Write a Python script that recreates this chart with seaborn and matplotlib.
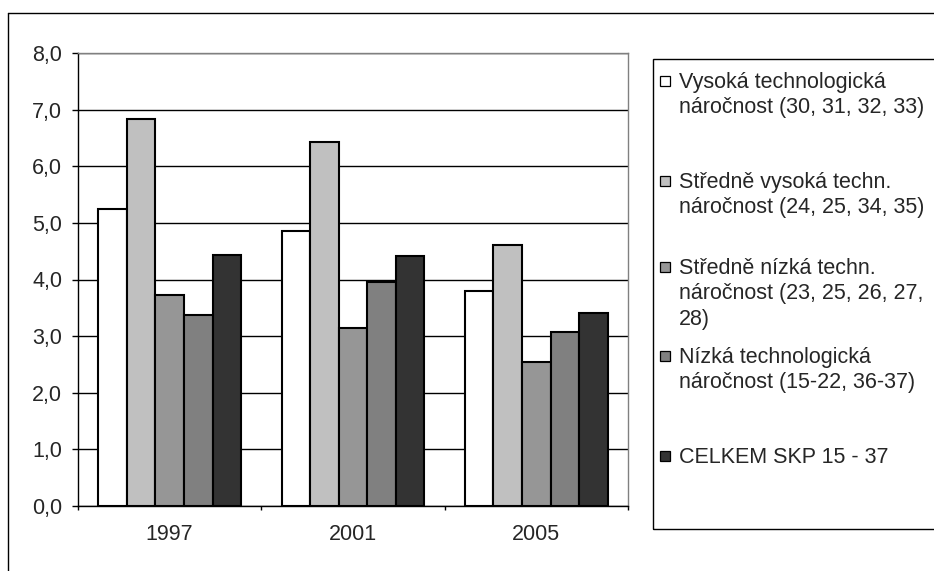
import matplotlib
matplotlib.use("Agg")
import matplotlib.pyplot as plt
from matplotlib.patches import Rectangle
from matplotlib.lines import Line2D
import seaborn as sns
import pandas as pd
import numpy as np

# data
years = ["1997", "2001", "2005"]
series = [
    "Vysoká technologická\nnáročnost (30, 31, 32, 33)",
    "Středně vysoká techn.\nnáročnost (24, 25, 34, 35)",
    "Středně nízká techn.\nnáročnost (23, 25, 26, 27,\n28)",
    "Nízká technologická\nnáročnost (15-22, 36-37)",
    "CELKEM SKP 15 - 37",
]
vysoka = [5.25, 4.85, 3.79]
stredne_vysoka = [6.84, 6.42, 4.61]
stredne_nizka = [3.72, 3.15, 2.55]
nizka = [3.37, 3.96, 3.08]
celkem = [4.44, 4.41, 3.40]
yticks = [0, 1, 2, 3, 4, 5, 6, 7, 8]

colors = ["#FFFFFF", "#C0C0C0", "#969696", "#808080", "#333333"]
# legend entry positions (px from top of the figure, centre of first line)
legend_y = [81, 181, 267, 356, 456]

values = [vysoka, stredne_vysoka, stredne_nizka, nizka, celkem]
df = pd.DataFrame({
    "rok": years * len(series),
    "skupina": [s for s in series for _ in years],
    "hodnota": [v for vals in values for v in vals],
})

sns.set_style("white")
plt.rcParams['font.family'] = ['Liberation Sans', 'DejaVu Sans']
plt.rcParams['font.size'] = 15

W, H = 934, 571
fig = plt.figure(figsize=(W / 100, H / 100), dpi=100)
ax = fig.add_axes([78 / W, (H - 506) / H, 550 / W, 453 / H])

sns.barplot(data=df, x="rok", y="hodnota", hue="skupina", palette=colors,
            saturation=1, edgecolor="black", linewidth=1.5, width=0.78,
            gap=0, legend=False, ax=ax)

ax.set_xlim(-0.5, 2.5)
ax.set_ylim(0, 8)
ax.set_yticks(yticks)
ax.set_yticklabels([f"{v:.1f}".replace(".", ",") for v in yticks])
ax.yaxis.grid(True, color="black", linewidth=1)
ax.set_axisbelow(True)
ax.set_xlabel("")
ax.set_ylabel("")
ax.set_xticks([-0.5, 0.5, 1.5, 2.5], minor=True)
ax.tick_params(axis="y", direction="out", length=4.5, width=1, color="black", pad=7, left=True, labelsize=15.5)
ax.tick_params(axis="x", which="major", length=0, pad=13, labelsize=15.5)
ax.tick_params(axis="x", which="minor", direction="out", length=3, width=1, color="black", bottom=True)

for side in ["top", "right"]:
    ax.spines[side].set_color("#808080")
for side in ["left", "bottom"]:
    ax.spines[side].set_color("black")
for sp in ax.spines.values():
    sp.set_linewidth(1)
    sp.set_visible(True)

# outer chart-area frame
fig.add_artist(Line2D([8 / W, 1], [1 - 13 / H, 1 - 13 / H], transform=fig.transFigure, color="black", lw=1))
fig.add_artist(Line2D([8 / W, 8 / W], [0, 1 - 13 / H], transform=fig.transFigure, color="black", lw=1))

# legend box
fig.add_artist(Rectangle((653 / W, 1 - 529 / H), 1, (529 - 59) / H, transform=fig.transFigure,
                         fill=False, edgecolor="black", lw=1))
for label, col, y in zip(series, colors, legend_y):
    fig.add_artist(Rectangle((660 / W, 1 - (y + 5) / H), 10 / W, 10 / H, transform=fig.transFigure,
                             facecolor=col, edgecolor="black", lw=0.9))
    fig.text(679 / W, 1 - (y - 9) / H, label, va="top", ha="left", fontsize=15.5, linespacing=1.28)

fig.savefig("out.png", dpi=100)
